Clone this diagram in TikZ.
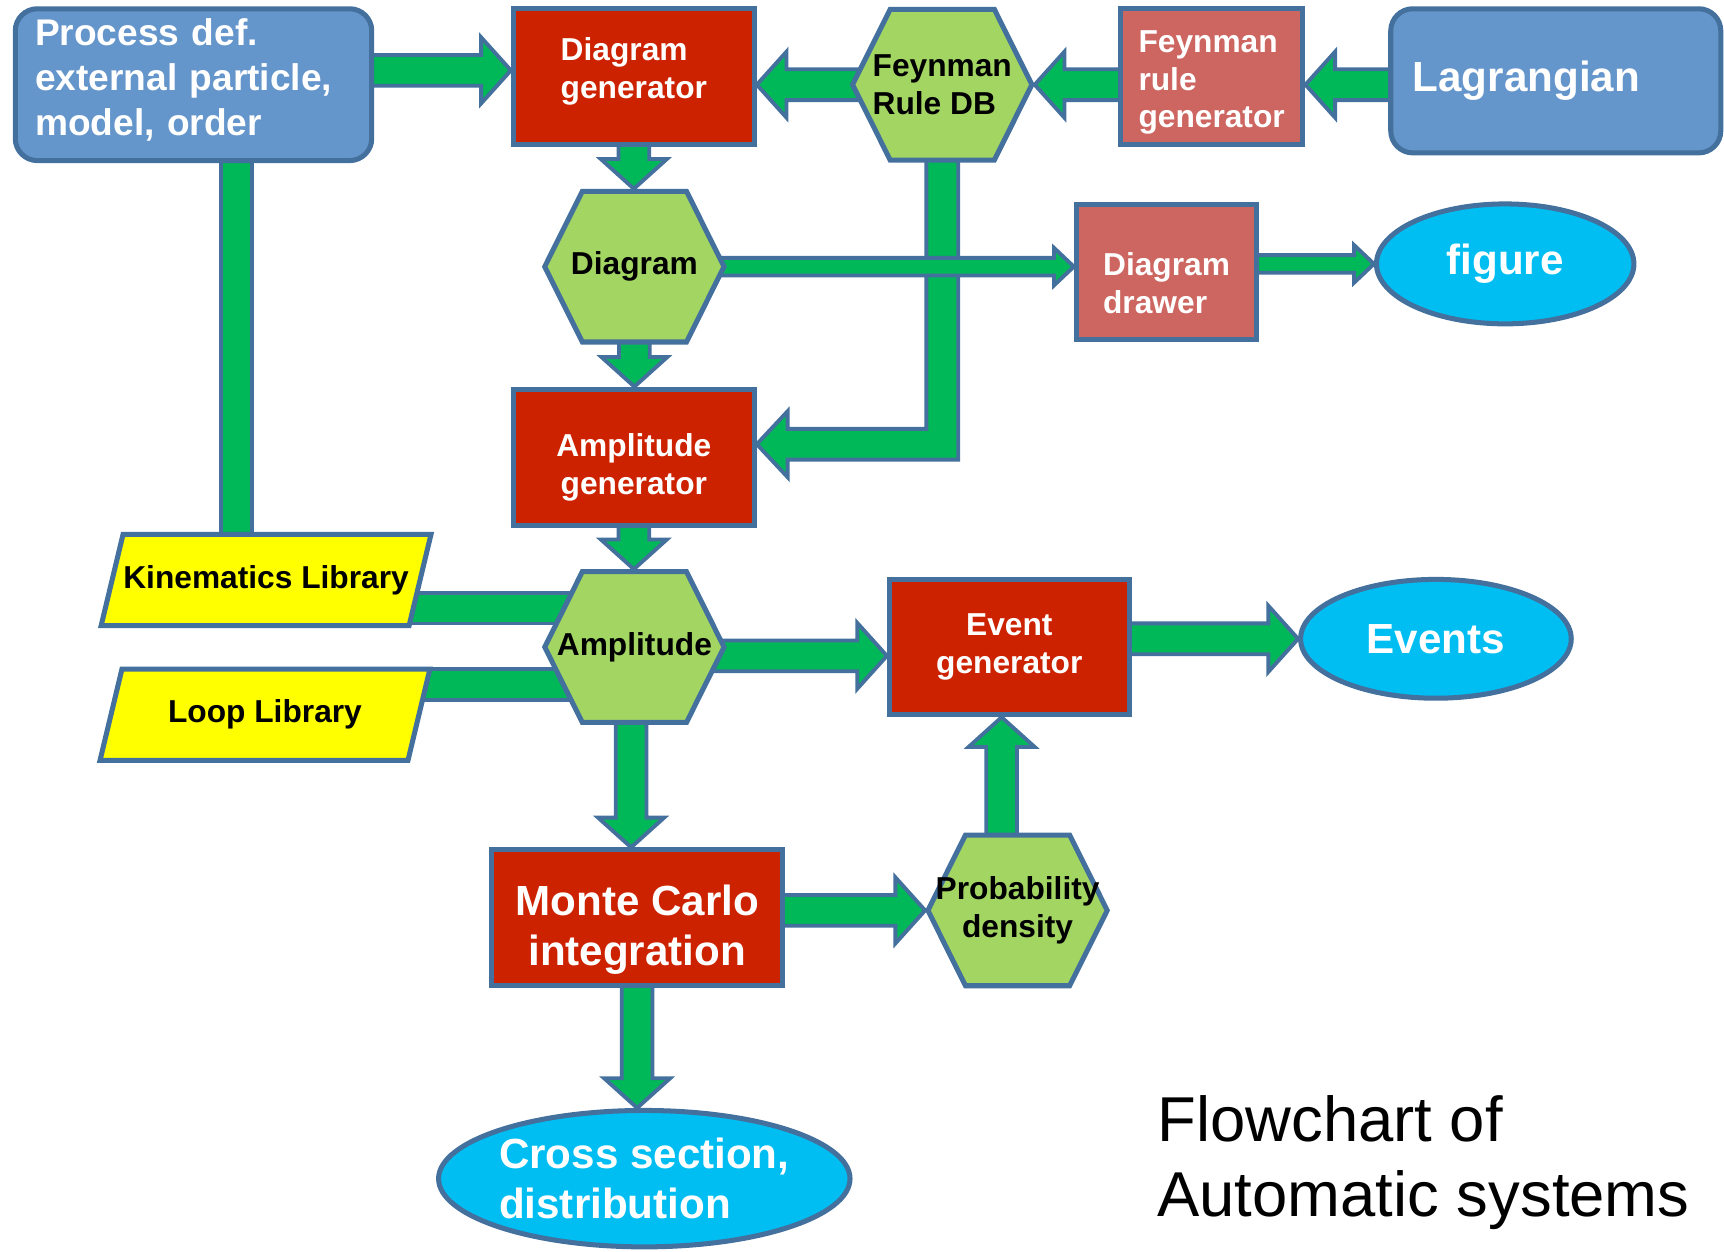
\documentclass[tikz,border=0pt]{standalone}
\usepackage{fontspec}
\setmainfont{Liberation Sans}
\usetikzlibrary{shapes.geometric,shapes.symbols,calc}

\definecolor{boxblue}{HTML}{6495CB}
\definecolor{edgeblue}{HTML}{44709D}
\definecolor{genred}{HTML}{CC2200}
\definecolor{toolred}{HTML}{CD6660}
\definecolor{hexgreen}{HTML}{A3D563}
\definecolor{flowgreen}{HTML}{00B858}
\definecolor{libyellow}{HTML}{FFFF00}
\definecolor{outcyan}{HTML}{00BEF2}

\newcommand{\fontsmall}{\bfseries\fontsize{8.2}{9.7}\selectfont}
\newcommand{\fontproc}{\bfseries\fontsize{9.6}{11.7}\selectfont}
\newcommand{\fontlarge}{\bfseries\fontsize{10.9}{12.8}\selectfont}
\newcommand{\fonttitle}{\fontsize{16.4}{19.3}\selectfont}
% invisible struts to nudge text up or down inside a box
\newcommand{\padtop}[1]{\rule{0pt}{#1}}
\newcommand{\padbot}[1]{\rule[-#1]{0pt}{#1}}

\pgfdeclarelayer{background}
\pgfsetlayers{background,main}

\tikzset{
  bigflow/.code={\def\shaftw{0.14cm}\def\headw{0.30cm}\def\headlen{0.27cm}},
  slimflow/.code={\def\shaftw{0.08cm}\def\headw{0.17cm}\def\headlen{0.18cm}},
}

\newcommand{\fatarrow}[3][]{%
  \begin{scope}[flow,bigflow,#1]
    \coordinate (fabase) at ($(#3)!\headlen!(#2)$);
    \filldraw ($(#2)!\shaftw!90:(#3)$) -- ($(fabase)!\shaftw!90:(#3)$)
      -- ($(fabase)!\headw!90:(#3)$) -- (#3)
      -- ($(fabase)!\headw!-90:(#3)$) -- ($(fabase)!\shaftw!-90:(#3)$)
      -- ($(#2)!\shaftw!-90:(#3)$) -- cycle;
  \end{scope}}
\newcommand{\fatbar}[2]{%
  \begin{scope}[flow,bigflow]
    \filldraw ($(#1)!\shaftw!90:(#2)$) -- ($(#2)!\shaftw!-90:(#1)$)
      -- ($(#2)!\shaftw!90:(#1)$) -- ($(#1)!\shaftw!-90:(#2)$) -- cycle;
  \end{scope}}

\begin{document}
\begin{tikzpicture}[x=0.01cm, y=0.01cm]
	\tikzstyle{base}=[draw=edgeblue, line width=1.3pt, inner sep=0pt, font=\fontsmall]
	\tikzstyle{model}=[base, rectangle, rounded corners=0.2cm, fill=boxblue, text=white]
	\tikzstyle{gen}=[base, rectangle, fill=genred, text=white]
	\tikzstyle{tool}=[base, rectangle, fill=toolred, text=white, align=left]
	\tikzstyle{hexa}=[base, inner sep=2pt, signal, signal to=east and west, signal from=nowhere, signal pointer angle=127, fill=hexgreen, minimum width=1.63cm, minimum height=1.37cm]
	\tikzstyle{hexlabel}=[inner sep=0pt, text=black, font=\fontsmall]
	\tikzstyle{lib}=[base, trapezium, trapezium left angle=76.5, trapezium right angle=103.5, inner xsep=1.3cm, inner ysep=0.415cm, fill=libyellow]
	\tikzstyle{liblabel}=[inner sep=0pt, text=black, font=\fontsmall]
	\tikzstyle{result}=[base, ellipse, fill=outcyan, text=white, font=\fontlarge]
	\tikzstyle{flow}=[fill=flowgreen, draw=edgeblue, line width=1pt]

	\useasboundingbox (0,0) rectangle (1568,-1138);

		\node[model, text width=2.88cm, align=left, minimum width=3.24cm, minimum height=1.38cm, font=\fontproc] (proc) at (176,-77) {Process def.\\external particle,\\model, order\padbot{4pt}};
		\node[gen, align=left, minimum width=2.19cm, minimum height=1.23cm] (diaggen) at (576.5,-69.5) {Diagram\\generator\padbot{4.3pt}};
		\node[hexa, label={[hexlabel, align=left]center:Feynman\\Rule DB}] (db) at (857,-77) {};
		\node[tool, minimum width=1.66cm, minimum height=1.23cm] (frgen) at (1102,-69.5) {\padtop{8.8pt}Feynman\\rule\\generator};
		\node[model, text width=2.6cm, align=left, minimum width=3cm, minimum height=1.31cm, font=\fontlarge] (lag) at (1415,-73.5) {Lagrangian};
		\node[hexa, label={[hexlabel]center:Diagram}] (diag) at (577,-242.5) {};
		\node[tool, minimum width=1.64cm, minimum height=1.23cm] (drawer) at (1061,-247.5) {\padtop{11.7pt}Diagram\\drawer};
		\node[result, minimum width=2.34cm, minimum height=1.09cm] (fig) at (1369,-240) {figure};
		\node[gen, align=center, minimum width=2.19cm, minimum height=1.24cm] (ampgen) at (576.5,-416) {\padtop{11.1pt}Amplitude\\generator};
		\node[lib, label={[liblabel]center:Kinematics Library}] (kin) at (242,-527.5) {};
		\node[lib, label={[liblabel]center:Loop Library}] (loop) at (241,-650) {};
		\node[hexa, label={[hexlabel]center:Amplitude}] (amp) at (577,-588.5) {};
		\node[gen, align=center, minimum width=2.18cm, minimum height=1.23cm] (evgen) at (918,-588.5) {Event\\generator};
		\node[result, minimum width=2.46cm, minimum height=1.08cm] (events) at (1306,-581) {Events};
		\node[gen, align=center, minimum width=2.65cm, minimum height=1.23cm, font=\fontlarge] (mc) at (579.5,-834.5) {\padtop{14.2pt}Monte Carlo\\integration};
		\node[hexa, label={[hexlabel, align=center]center:Probability\\density}] (prob) at (925.5,-828) {};
		\node[result, align=left, minimum width=3.74cm, minimum height=1.24cm] (cs) at (586,-1072) {Cross section,\\distribution};
		\node[anchor=north west, align=left, inner sep=0pt, font=\fonttitle] (title) at (1052,-996) {Flowchart of\\Automatic systems};

	\begin{pgfonlayer}{background}
		\coordinate (procout) at ($(proc.center)+(0,13)$);
		\fatarrow{procout}{diaggen.west |- procout}
		\fatarrow{db.center}{diaggen.east |- db.center}
		\fatarrow{frgen.center |- db.center}{db.east}
		\fatarrow{lag.center |- db.center}{frgen.east |- db.center}
		\fatarrow{diaggen.center}{diaggen.center |- diag.north}
		\fatarrow{diag.center}{diag.center |- ampgen.north}
		\fatarrow{ampgen.center}{ampgen.center |- amp.north}
		\coordinate (ampin) at ($(ampgen.east)+(0,12)$);
		\filldraw[flow] ($(db.center)+(-14.5,0)$) -- ($(db.center)+(14.5,0)$) -- ($(db.center |- ampin)+(14.5,-14)$) -- ($(ampin)+(28,-14)$) -- ($(ampin)+(28,-30)$) -- (ampin) -- ($(ampin)+(28,30)$) -- ($(ampin)+(28,14)$) -- ($(db.center |- ampin)+(-14.5,14)$) -- cycle;
		\fatarrow[slimflow]{diag.center}{drawer.west |- diag.center}
		\fatarrow[slimflow]{drawer.center |- fig.west}{fig.west}
		\coordinate (procdown) at ($(proc.center)+(39,0)$);
		\fatbar{procdown}{procdown |- kin.center}
		\coordinate (kinout) at ($(kin.center)+(0,-25.5)$);
		\fatbar{kinout}{amp.center |- kinout}
		\coordinate (loopout) at ($(loop.center)+(0,27.5)$);
		\fatbar{loopout}{amp.center |- loopout}
		\coordinate (ampout) at ($(amp.center)+(0,-8)$);
		\fatarrow{ampout}{evgen.west |- ampout}
		\fatarrow{evgen.center |- events.west}{events.west}
		\coordinate (ampdown) at ($(amp.center)+(-3,0)$);
		\fatarrow{ampdown}{ampdown |- mc.north}
		\fatarrow{mc.center |- prob.west}{prob.west}
		\coordinate (probup) at ($(prob.center)+(-14.5,0)$);
		\fatarrow{probup}{probup |- evgen.south}
		\fatarrow{mc.center}{mc.center |- cs.north}
	\end{pgfonlayer}
\end{tikzpicture}
\end{document}
